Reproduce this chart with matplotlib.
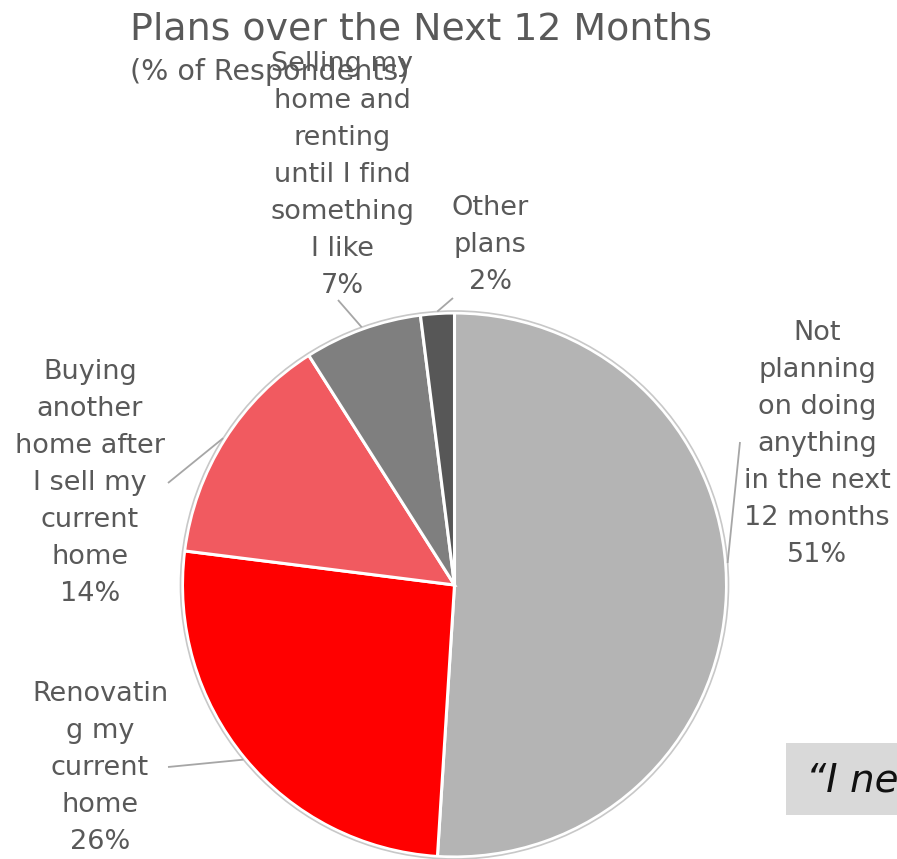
import numpy as np
import matplotlib
matplotlib.use("Agg")
import matplotlib.pyplot as plt
from matplotlib.patches import Circle, Rectangle

plt.rcParams['font.family'] = ['DejaVu Sans']

# Survey data
categories = [
    "Not\nplanning\non doing\nanything\nin the next\n12 months",
    "Renovatin\ng my\ncurrent\nhome",
    "Buying\nanother\nhome after\nI sell my\ncurrent\nhome",
    "Selling my\nhome and\nrenting\nuntil I find\nsomething\nI like",
    "Other\nplans",
]
shares = [51, 26, 14, 7, 2]
colors = ["#b4b4b4", "#ff0000", "#f15a60", "#7f7f7f", "#575757"]

title = "Plans over the Next 12 Months"
subtitle = "(% of Respondents)"
quote = "\u201cI ne"

W, H = 897, 859
fig = plt.figure(figsize=(W / 100, H / 100), dpi=100)
ax = fig.add_axes([0, 0, 1, 1])

def py(y):
    # pixel row (from top) -> axis y
    return H - y

cx, cy, R = 454.5, py(585), 272

wedges, _ = ax.pie(shares, startangle=90, counterclock=False,
                   colors=colors, center=(cx, cy), radius=R,
                   wedgeprops=dict(edgecolor='white', linewidth=2.2),
                   frame=True)
ax.set_xlim(0, W)
ax.set_ylim(0, H)
ax.set_aspect('equal')
ax.axis('off')
ax.add_patch(Circle((cx, cy), R + 2, fill=False, edgecolor='#c8c8c8', linewidth=1.2))

# label block centres, leader-line outer ends (pixels from top-left)
label_pos = [(817, 444), (100, 768), (90, 483), (342, 175), (490, 245)]
leader_end = [(740, 442), (168, 767), (168, 483), (338, 300), (453, 298)]
angle_shift = [6.4, 0, 0, 0, 0]

for w, name, val, (lx, ly), (ex, ey), da in zip(wedges, categories, shares,
                                               label_pos, leader_end, angle_shift):
    mid = np.deg2rad((w.theta1 + w.theta2) / 2 + da)
    px_, py_ = cx + (R + 2) * np.cos(mid), cy + (R + 2) * np.sin(mid)
    ax.plot([ex, px_], [py(ey), py_], color='#a6a6a6', linewidth=1.3,
            solid_capstyle='butt')
    ax.text(lx, py(ly), f"{name}\n{val}%", ha='center', va='center',
            multialignment='center', fontsize=19.5, color='#595959',
            linespacing=1.55)

ax.text(130, py(40), title, ha='left', va='baseline', fontsize=27.3, color='#595959')
ax.text(130, py(80), subtitle, ha='left', va='baseline', fontsize=20.5, color='#595959')

# pull-quote box running off the right edge
ax.add_patch(Rectangle((786, py(815)), W - 786 + 20, 72, facecolor='#d9d9d9',
                       edgecolor='none', clip_on=False))
ax.text(806, py(792), quote, ha='left', va='baseline', fontsize=28,
        style='italic', color='#111111')

fig.savefig("out.png", dpi=100)
